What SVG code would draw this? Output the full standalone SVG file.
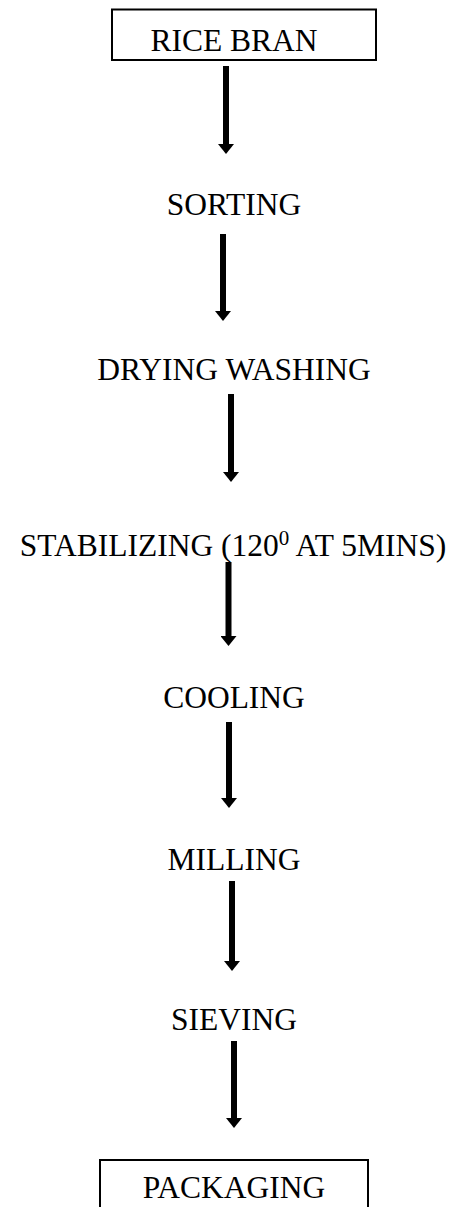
<svg xmlns="http://www.w3.org/2000/svg" width="459" height="1207" viewBox="0 0 459 1207">
<style>
.lbl{font-family:"Liberation Serif","Times New Roman",serif;font-size:31.5px;fill:#000;text-anchor:middle}
.box{fill:none;stroke:#000;stroke-width:2}
.arr{stroke:#000;stroke-width:6;fill:none;marker-end:url(#head)}
</style>
<defs>
<marker id="head" viewBox="0 0 10 16" markerWidth="10" markerHeight="16" refX="0" refY="8" orient="auto" markerUnits="userSpaceOnUse">
<path d="M0,0 L10,8 L0,16 Z" fill="#000"/>
</marker>
</defs>
<rect width="459" height="1207" fill="#fff"/>
<g id="n-rice-bran"><rect class="box" x="112" y="9.5" width="264" height="50.5"/><text class="lbl" x="234" y="51">RICE BRAN</text></g>
<g id="n-sorting"><text class="lbl" x="234" y="215">SORTING</text></g>
<g id="n-drying-washing"><text class="lbl" x="234" y="380">DRYING WASHING</text></g>
<g id="n-stabilizing"><text class="lbl" x="233" y="556">STABILIZING (120<tspan font-size="21" dy="-11">0</tspan><tspan dy="11"> AT 5MINS)</tspan></text></g>
<g id="n-cooling"><text class="lbl" x="234" y="708">COOLING</text></g>
<g id="n-milling"><text class="lbl" x="234" y="870">MILLING</text></g>
<g id="n-sieving"><text class="lbl" x="234" y="1030">SIEVING</text></g>
<g id="n-packaging"><rect class="box" x="100" y="1160" width="268" height="60"/><text class="lbl" x="234" y="1198">PACKAGING</text></g>
<g id="connectors">
<line class="arr" x1="226" y1="66" x2="226" y2="144"/>
<line class="arr" x1="223" y1="234" x2="223" y2="311"/>
<line class="arr" x1="231" y1="394" x2="231" y2="472"/>
<line class="arr" x1="228.5" y1="562" x2="228.5" y2="636"/>
<line class="arr" x1="229" y1="722" x2="229" y2="798"/>
<line class="arr" x1="232" y1="881" x2="232" y2="961"/>
<line class="arr" x1="234" y1="1041" x2="234" y2="1118"/>
</g>
</svg>
